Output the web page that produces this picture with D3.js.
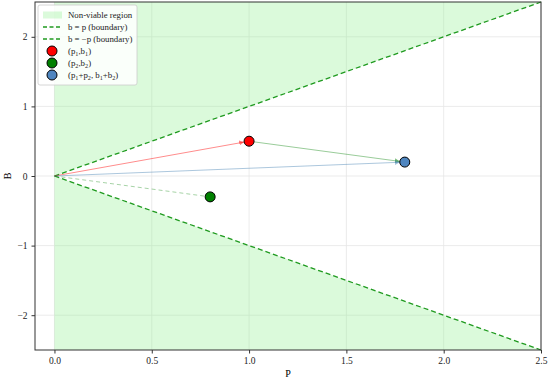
<!DOCTYPE html>
<html><head><meta charset="utf-8">
<script src="https://cdn.jsdelivr.net/npm/d3@7"></script>
<style>body{margin:0;background:#fff}text{font-family:"Liberation Serif","Times New Roman",serif}</style>
</head><body><svg id="c" width="550" height="380"></svg>
<script>
const xTicks=[0,0.5,1.0,1.5,2.0,2.5];
const yTicks=[-2,-1,0,1,2];
const pointNames=[["(p","1",",b","1",")"],["(p","2",",b","2",")"],["(p","1","+p","2",", b","1","+b","2",")"]];
const pointP=[1.0,0.8,1.8];
const pointB=[0.5,-0.3,0.2];
const pointColors=["#ff0000","#008000","#4f86c0"];
const boundaryP=[0,2.5];
const legendLabels=["Non-viable region","b = p (boundary)","b = −p (boundary)"];

const svg=d3.select("#c");
const m={l:35,r:9,t:2,b:30};
const W=550,H=380;
const x=d3.scaleLinear().domain([-0.1,2.5]).range([m.l,W-m.r]);
const y=d3.scaleLinear().domain([-2.5,2.5]).range([H-m.b,m.t]);

// grid
svg.append("g").selectAll("line").data(xTicks).join("line")
 .attr("x1",d=>x(d)).attr("x2",d=>x(d)).attr("y1",y(2.5)).attr("y2",y(-2.5))
 .attr("stroke","#e6e6e6").attr("stroke-width",0.8);
svg.append("g").selectAll("line").data(yTicks).join("line")
 .attr("y1",d=>y(d)).attr("y2",d=>y(d)).attr("x1",x(-0.1)).attr("x2",x(2.5))
 .attr("stroke","#e6e6e6").attr("stroke-width",0.8);

// regions
const fill="rgba(144,238,144,0.32)";
const p0=boundaryP[0],p1=boundaryP[1];
svg.append("path").attr("d",d3.line()([[x(p0),y(p0)],[x(p1),y(p1)],[x(p1),y(2.5)],[x(p0),y(2.5)]])+"Z").attr("fill",fill);
svg.append("path").attr("d",d3.line()([[x(p0),y(-p0)],[x(p1),y(-p1)],[x(p1),y(-2.5)],[x(p0),y(-2.5)]])+"Z").attr("fill",fill);

// boundaries
svg.append("line").attr("x1",x(p0)).attr("y1",y(p0)).attr("x2",x(p1)).attr("y2",y(p1))
 .attr("stroke","#1f9a1f").attr("stroke-width",1.3).attr("stroke-dasharray","5,3");
svg.append("line").attr("x1",x(p0)).attr("y1",y(-p0)).attr("x2",x(p1)).attr("y2",y(-p1))
 .attr("stroke","#1f9a1f").attr("stroke-width",1.3).attr("stroke-dasharray","5,3");

// arrows
const defs=svg.append("defs");
function marker(id,col){
 defs.append("marker").attr("id",id).attr("viewBox","0 0 10 10").attr("refX",10).attr("refY",5)
  .attr("markerWidth",5).attr("markerHeight",5).attr("orient","auto")
  .append("path").attr("d","M0,0L10,5L0,10Z").attr("fill",col);
}
marker("mr","rgba(255,0,0,0.5)");marker("mg","rgba(0,128,0,0.5)");marker("mb","rgba(70,130,180,0.5)");
function arrow(a,b,c,col,mk,dash){
 const l=svg.append("line").attr("x1",x(a[0])).attr("y1",y(a[1])).attr("x2",x(b[0])-c[0]).attr("y2",y(b[1])-c[1])
 .attr("stroke",col).attr("stroke-width",1);
 if(mk)l.attr("marker-end","url(#"+mk+")");
 if(dash)l.attr("stroke-dasharray","4,3");
}
function shrink(a,b,r){const dx=x(b[0])-x(a[0]),dy=y(b[1])-y(a[1]);const L=Math.hypot(dx,dy);return [dx/L*r,dy/L*r];}
const O=[0,0],P1=[pointP[0],pointB[0]],P2=[pointP[1],pointB[1]],S=[pointP[2],pointB[2]];
arrow(O,P1,shrink(O,P1,5),"rgba(255,0,0,0.45)","mr");
arrow(O,P2,shrink(O,P2,5),"rgba(0,128,0,0.35)",null,true);
arrow(P1,S,shrink(P1,S,5),"rgba(0,128,0,0.4)","mg");
arrow(O,S,shrink(O,S,5),"rgba(70,130,180,0.45)","mb");

// points
svg.append("g").selectAll("circle").data(pointP).join("circle")
 .attr("cx",d=>x(d)).attr("cy",(d,i)=>y(pointB[i])).attr("r",5)
 .attr("fill",(d,i)=>pointColors[i]).attr("stroke","#000").attr("stroke-width",1);

// spines
svg.append("rect").attr("x",x(-0.1)).attr("y",y(2.5)).attr("width",x(2.5)-x(-0.1)).attr("height",y(-2.5)-y(2.5))
 .attr("fill","none").attr("stroke","#333").attr("stroke-width",1);

// axes
const xa=svg.append("g").attr("transform",`translate(0,${y(-2.5)})`)
 .call(d3.axisBottom(x).tickValues(xTicks).tickFormat(d3.format(".1f")).tickSize(3.5).tickPadding(4));
const ya=svg.append("g").attr("transform",`translate(${x(-0.1)},0)`)
 .call(d3.axisLeft(y).tickValues(yTicks).tickFormat(d=>d<0?"−"+Math.abs(d):d).tickSize(3.5).tickPadding(4));
[xa,ya].forEach(g=>{g.select(".domain").remove();g.selectAll("text").attr("font-size",9.5).attr("fill","#222").style("font-family","'Liberation Serif',serif");g.selectAll("line").attr("stroke","#333");});
svg.append("text").attr("x",(x(-0.1)+x(2.5))/2).attr("y",H-3).attr("text-anchor","middle").attr("font-size",10).text("P");
svg.append("text").attr("transform",`translate(11,${(y(2.5)+y(-2.5))/2}) rotate(-90)`).attr("text-anchor","middle").attr("font-size",10).text("B");

// legend
const lg=svg.append("g").attr("transform","translate(38,5)");
lg.append("rect").attr("width",99).attr("height",80).attr("rx",2).attr("fill","rgba(255,255,255,0.85)").attr("stroke","#ccc").attr("stroke-width",0.8);
const rowY=i=>10+i*12;
lg.append("rect").attr("x",5).attr("y",rowY(0)-3.5).attr("width",19).attr("height",7).attr("fill",fill);
[1,2].forEach(i=>lg.append("line").attr("x1",5).attr("x2",24).attr("y1",rowY(i)).attr("y2",rowY(i)).attr("stroke","#1f9a1f").attr("stroke-width",1.3).attr("stroke-dasharray","4,2.5"));
pointColors.forEach((c,i)=>lg.append("circle").attr("cx",14).attr("cy",rowY(i+3)).attr("r",5).attr("fill",c).attr("stroke","#000").attr("stroke-width",1));
legendLabels.forEach((t,i)=>lg.append("text").attr("x",30).attr("y",rowY(i)+3.2).attr("font-size",8.8).attr("fill","#222").text(t));
pointNames.forEach((parts,i)=>{
 const t=lg.append("text").attr("x",30).attr("y",rowY(i+3)+3.2).attr("font-size",8.8).attr("fill","#222");
 parts.forEach((p,j)=>{const s=t.append("tspan").text(p);if(j%2===1){s.attr("font-size",6.2).attr("dy",1.5);}else if(j>0){s.attr("dy",-1.5);}});
});
</script></body></html>
